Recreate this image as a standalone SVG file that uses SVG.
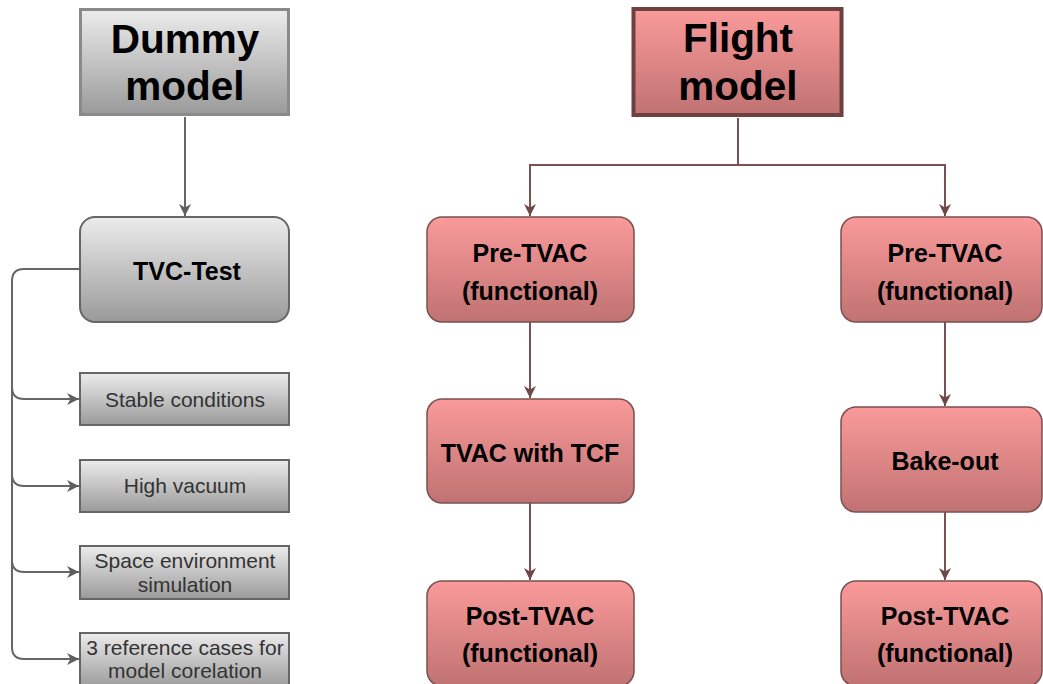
<svg xmlns="http://www.w3.org/2000/svg" width="1043" height="684" viewBox="0 0 1043 684">
<defs>
<linearGradient id="gGray" x1="0" y1="0" x2="0" y2="1">
<stop offset="0" stop-color="#ececec"/><stop offset="1" stop-color="#9a9a9a"/>
</linearGradient>
<linearGradient id="gRed" x1="0" y1="0" x2="0" y2="1">
<stop offset="0" stop-color="#fa9a9a"/><stop offset="1" stop-color="#c07272"/>
</linearGradient>
<marker id="aGray" viewBox="0 0 12 12" refX="12" refY="6" markerWidth="12" markerHeight="12" markerUnits="userSpaceOnUse" orient="auto">
<path d="M0,0 L12,6 L0,12 L3.5,6 z" fill="#5e5e5e"/>
</marker>
<marker id="aRed" viewBox="0 0 12 12" refX="12" refY="6" markerWidth="12" markerHeight="12" markerUnits="userSpaceOnUse" orient="auto">
<path d="M0,0 L12,6 L0,12 L3.5,6 z" fill="#6e4848"/>
</marker>
</defs>
<style>
.gbox{fill:url(#gGray);stroke:#666;stroke-width:2}
.rbox{fill:url(#gRed);stroke:#7a5050;stroke-width:1.5}
.big{font-family:"Liberation Sans",Arial,sans-serif;font-weight:bold;font-size:40.5px;fill:#000;text-anchor:middle}
.mid{font-family:"Liberation Sans",Arial,sans-serif;font-weight:bold;font-size:25px;fill:#000;text-anchor:middle}
.sm{font-family:"Liberation Sans",Arial,sans-serif;font-size:21px;fill:#333;text-anchor:middle}
.cg{fill:none;stroke:#666;stroke-width:2}
.cr{fill:none;stroke:#7a5050;stroke-width:2}
</style>
<rect width="1043" height="684" fill="#fff"/>
<g id="connectors">
<path class="cg" d="M185,117 V216" marker-end="url(#aGray)"/>
<path class="cg" d="M80,269 H24 Q12,269 12,281 V647 Q12,659 24,659 H79" marker-end="url(#aGray)"/>
<path class="cg" d="M12,387 Q12,399 24,399 H79" marker-end="url(#aGray)"/>
<path class="cg" d="M12,474 Q12,486 24,486 H79" marker-end="url(#aGray)"/>
<path class="cg" d="M12,560 Q12,572 24,572 H79" marker-end="url(#aGray)"/>
<path class="cr" d="M738,118 V165 H530 V216" marker-end="url(#aRed)"/>
<path class="cr" d="M738,165 H945 V216" marker-end="url(#aRed)"/>
<path class="cr" d="M530,322 V398" marker-end="url(#aRed)"/>
<path class="cr" d="M530,503 V580" marker-end="url(#aRed)"/>
<path class="cr" d="M945,322 V406" marker-end="url(#aRed)"/>
<path class="cr" d="M945,512 V580" marker-end="url(#aRed)"/>
</g>
<g id="dummy-model">
<rect x="80.5" y="9.5" width="208" height="105" fill="url(#gGray)" stroke="#8a8a8a" stroke-width="3"/>
<text class="big" x="185" y="53">Dummy</text>
<text class="big" x="185" y="100">model</text>
</g>
<g id="tvc-test">
<rect class="gbox" x="80" y="217" width="209" height="105" rx="15"/>
<text class="mid" x="187" y="280">TVC-Test</text>
</g>
<g id="stable-conditions">
<rect class="gbox" x="80" y="373" width="209" height="52"/>
<text class="sm" x="185" y="407">Stable conditions</text>
</g>
<g id="high-vacuum">
<rect class="gbox" x="80" y="460" width="209" height="52"/>
<text class="sm" x="185" y="493">High vacuum</text>
</g>
<g id="space-environment">
<rect class="gbox" x="80" y="546" width="209" height="53"/>
<text class="sm" x="185" y="568">Space environment</text>
<text class="sm" x="185" y="592">simulation</text>
</g>
<g id="reference-cases">
<rect class="gbox" x="80" y="633" width="209" height="55"/>
<text class="sm" x="185" y="655">3 reference cases for</text>
<text class="sm" x="185" y="678">model corelation</text>
</g>
<g id="flight-model">
<rect x="633.5" y="9" width="208" height="106" fill="url(#gRed)" stroke="#6e4040" stroke-width="4"/>
<text class="big" x="738" y="52">Flight</text>
<text class="big" x="738" y="100">model</text>
</g>
<g id="pre-tvac-left">
<rect class="rbox" x="427" y="217" width="207" height="105" rx="15"/>
<text class="mid" x="530" y="262">Pre-TVAC</text>
<text class="mid" x="530" y="300">(functional)</text>
</g>
<g id="tvac-tcf">
<rect class="rbox" x="427" y="399" width="207" height="104" rx="15"/>
<text class="mid" x="530" y="462">TVAC with TCF</text>
</g>
<g id="post-tvac-left">
<rect class="rbox" x="427" y="581" width="207" height="105" rx="15"/>
<text class="mid" x="530" y="625">Post-TVAC</text>
<text class="mid" x="530" y="662">(functional)</text>
</g>
<g id="pre-tvac-right">
<rect class="rbox" x="841" y="217" width="201" height="105" rx="15"/>
<text class="mid" x="945" y="262">Pre-TVAC</text>
<text class="mid" x="945" y="300">(functional)</text>
</g>
<g id="bake-out">
<rect class="rbox" x="841" y="407" width="201" height="105" rx="15"/>
<text class="mid" x="945" y="470">Bake-out</text>
</g>
<g id="post-tvac-right">
<rect class="rbox" x="841" y="581" width="201" height="105" rx="15"/>
<text class="mid" x="945" y="625">Post-TVAC</text>
<text class="mid" x="945" y="662">(functional)</text>
</g>
</svg>
